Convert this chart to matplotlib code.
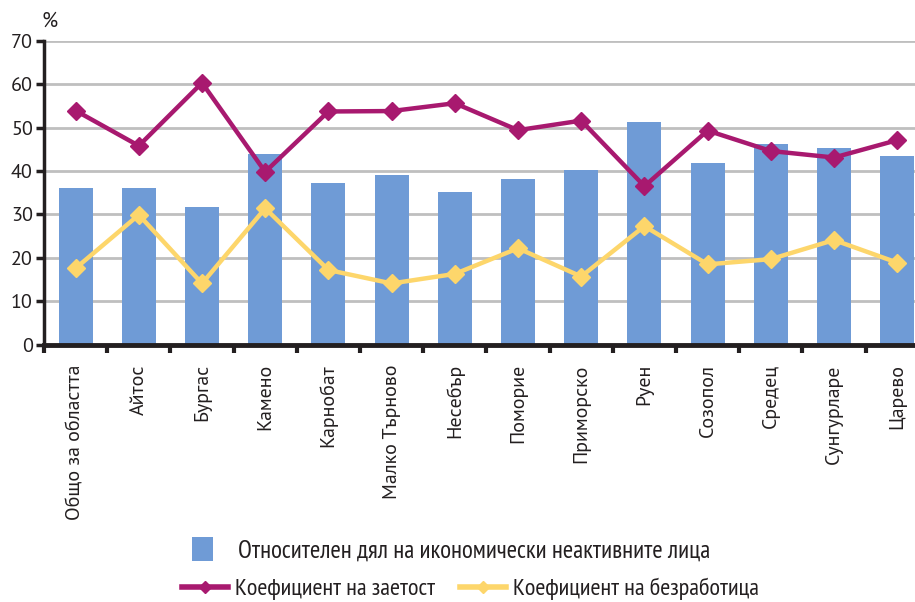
import matplotlib
matplotlib.use('Agg')
import matplotlib.pyplot as plt
import numpy as np
from matplotlib.lines import Line2D
from matplotlib.patches import Patch

categories = ['Общо за областта', 'Айтос', 'Бургас', 'Камено', 'Карнобат',
              'Малко Търново', 'Несебър', 'Поморие', 'Приморско', 'Руен',
              'Созопол', 'Средец', 'Сунгурларе', 'Царево']
inactive = [36.0, 36.0, 31.6, 43.9, 37.2, 39.1, 35.1, 38.2, 40.3, 51.3, 41.8, 46.1, 45.2, 43.4]
employment = [53.9, 45.8, 60.3, 39.8, 53.7, 53.8, 55.6, 49.4, 51.6, 36.5, 49.3, 44.6, 43.1, 47.1]
unemployment = [17.6, 29.9, 14.1, 31.4, 17.2, 14.1, 16.3, 22.2, 15.7, 27.3, 18.5, 19.7, 24.1, 18.9]
y_ticks = [0, 10, 20, 30, 40, 50, 60, 70]

label_bar = 'Относителен дял на икономически неактивните лица'
label_emp = 'Коефициент на заетост'
label_unemp = 'Коефициент на безработица'

plt.rcParams['font.family'] = ['PT Sans', 'DejaVu Sans']
narrow = ['PT Sans Narrow', 'DejaVu Sans']

c_bar = '#6f9bd6'
c_emp = '#a8196f'
c_unemp = '#fdd66b'
c_axis = '#231f20'
c_text = '#231f20'

fig = plt.figure(figsize=(9.15, 6.02), dpi=100)
ax = fig.add_axes([0.0481, 0.4274, 0.967, 0.505])
x = np.arange(len(categories))
ax.bar(x, inactive, width=0.54, color=c_bar, zorder=2)
ax.plot(x, employment, color=c_emp, lw=3.2, marker='D', ms=9, zorder=3)
ax.plot(x, unemployment, color=c_unemp, lw=3.2, marker='D', ms=9, zorder=3)
ax.set_xlim(-0.5, 13.5)
ax.set_ylim(0, 70)
ax.set_yticks(y_ticks)
ax.grid(axis='y', color='#bfbfbf', lw=2, zorder=0)
ax.set_axisbelow(True)
ax.set_xticks(x)
ax.set_xticklabels(categories, rotation=90, fontsize=14.3, color=c_text)
ax.set_xticks(np.arange(-0.5, 14, 1), minor=True)
ax.tick_params(axis='x', which='major', length=0, pad=14)
ax.tick_params(axis='x', which='minor', length=6, width=3, direction='out', color=c_axis)
ax.tick_params(axis='y', length=6, width=2.5, direction='out', labelsize=14.5, pad=2,
               color=c_axis, labelcolor=c_text)
for s in ['top', 'right']:
    ax.spines[s].set_visible(False)
ax.spines['left'].set_linewidth(2.5)
ax.spines['left'].set_color(c_axis)
ax.spines['bottom'].set_linewidth(3.5)
ax.spines['bottom'].set_color(c_axis)
ax.spines['bottom'].set_zorder(4)

fig.text(0.045, 0.965, '%', fontsize=15, ha='left', va='center', color=c_text)

h1 = [Patch(facecolor=c_bar, edgecolor='none')]
leg1 = fig.legend(h1, [label_bar], loc='center', bbox_to_anchor=(0.493, 0.0864),
                  frameon=False, prop={'family': narrow, 'size': 18}, handlelength=0.85,
                  handleheight=1.1, handletextpad=1.0, labelcolor=c_text)
h2 = [Line2D([], [], color=c_emp, lw=4, marker='D', ms=6),
      Line2D([], [], color=c_unemp, lw=4, marker='D', ms=6)]
leg2 = fig.legend(h2, [label_emp, label_unemp], loc='center', bbox_to_anchor=(0.514, 0.0216),
                  frameon=False, prop={'family': narrow, 'size': 17.5}, ncol=2, handlelength=1.9,
                  handletextpad=0.3, columnspacing=1.0, labelcolor=c_text)

fig.savefig('out.png', dpi=100)
